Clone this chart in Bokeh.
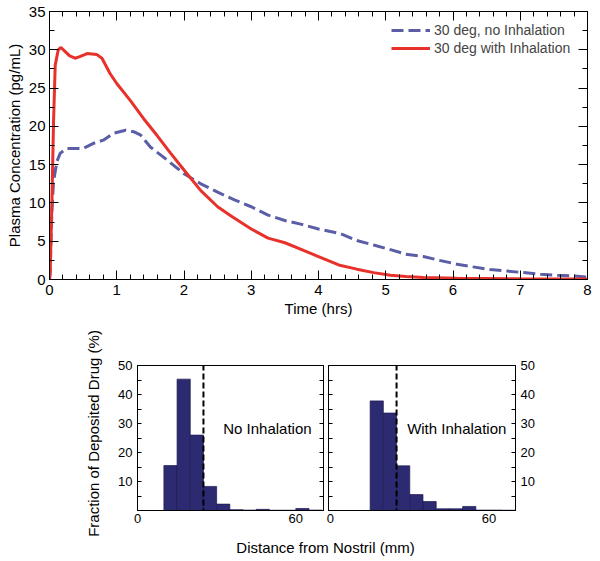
import math
from bokeh.plotting import figure
from bokeh.layouts import column, row
from bokeh.models import (SingleIntervalTicker, FixedTicker, LinearAxis, Legend,
                          LegendItem, Label, Arrow)
from bokeh.embed import file_html
from bokeh.resources import INLINE

# ---------------- data ----------------
# Plasma concentration, 30 deg, no inhalation
t_no = [0, 0.01, 0.035, 0.06, 0.11, 0.16, 0.26, 0.41, 0.5, 0.66, 0.8, 0.95, 1.13,
        1.25, 1.35, 1.5, 1.75, 2.0, 2.25, 2.5, 2.75, 3.0, 3.25, 3.5, 3.75, 4.0,
        4.32, 4.57, 4.82, 5.07, 5.3, 5.56, 5.8, 6.06, 6.3, 6.55, 6.8, 7.05, 7.3,
        7.55, 7.8, 8.0]
c_no = [0, 1.0, 8.8, 12.8, 15.4, 16.5, 17.1, 17.1, 17.1, 17.8, 18.2, 19.1, 19.5,
        19.3, 18.9, 17.3, 15.6, 13.8, 12.5, 11.4, 10.4, 9.5, 8.4, 7.7, 7.2, 6.6,
        6.0, 5.1, 4.5, 3.9, 3.3, 3.0, 2.5, 2.0, 1.65, 1.3, 1.1, 0.9, 0.7,
        0.55, 0.45, 0.3]

# Plasma concentration, 30 deg with inhalation
t_in = [0, 0.01, 0.035, 0.06, 0.085, 0.13, 0.17, 0.23, 0.3, 0.38, 0.45, 0.56, 0.7,
        0.78, 0.9, 1.0, 1.2, 1.4, 1.6, 1.8, 2.0, 2.25, 2.5, 2.7, 3.0, 3.25, 3.5,
        3.75, 4.0, 4.3, 4.57, 4.82, 5.07, 5.3, 5.56, 6.06, 7.0, 8.0]
c_in = [0, 1.0, 9.7, 20.6, 28.0, 30.0, 30.3, 29.8, 29.2, 28.9, 29.1, 29.5, 29.4,
        28.9, 26.9, 25.6, 23.4, 21.0, 18.8, 16.5, 14.3, 11.6, 9.5, 8.3, 6.6, 5.4, 4.8,
        3.9, 3.0, 1.9, 1.35, 0.9, 0.56, 0.4, 0.26, 0.17, 0.1, 0.05]

series_labels = ["30 deg, no Inhalation", "30 deg with Inhalation"]

# Deposition histograms (bins of 5 mm)
bin_left = [10, 15, 20, 25, 30, 35, 40, 45, 50, 55, 60, 65]
bin_right = [15, 20, 25, 30, 35, 40, 45, 50, 55, 60, 65, 70]
frac_no_inh = [15.5, 45.3, 26.0, 8.3, 2.2, 0.3, 0.15, 0.4, 0.1, 0.1, 0.7, 0.15]
frac_with_inh = [0, 37.8, 33.6, 15.4, 5.5, 3.1, 0.6, 0.6, 1.4, 0.15, 0.15, 0.1]
nv_mp_boundary = 25
panel_titles = ["No Inhalation", "With Inhalation"]

# ---------------- style ----------------
FONT = "Liberation Sans"
RED = "#e8312a"
BLUE = "#5b5ea6"
NAVY = "#2c2a70"


def style_axis(ax, size="15px", tick_in=9, minor_in=5, standoff=4):
    ax.major_tick_in = tick_in
    ax.major_tick_out = 0
    ax.minor_tick_in = minor_in
    ax.minor_tick_out = 0
    ax.axis_line_color = "black"
    ax.major_tick_line_color = "black"
    ax.minor_tick_line_color = "black"
    ax.major_label_text_font = FONT
    ax.major_label_text_font_size = size
    ax.major_label_text_color = "black"
    ax.major_label_standoff = standoff
    ax.axis_label_text_font = FONT
    ax.axis_label_text_font_size = "15px"
    ax.axis_label_text_font_style = "normal"
    ax.axis_label_text_color = "black"


def mirror(ticker, tick_in, minor_in):
    ax = LinearAxis(ticker=ticker)
    style_axis(ax, tick_in=tick_in, minor_in=minor_in)
    ax.major_label_text_font_size = "1px"
    ax.major_label_text_color = None
    ax.major_label_text_alpha = 0
    ax.major_label_standoff = 0
    return ax


# ---------------- top plot ----------------
p = figure(width=598, height=320, x_range=(0, 8), y_range=(0, 35),
           output_backend="svg", toolbar_location=None,
           min_border_left=49, min_border_right=11, min_border_top=11,
           min_border_bottom=41)
p.grid.visible = False
p.outline_line_color = "black"

p.xaxis.ticker = SingleIntervalTicker(interval=1, num_minor_ticks=5)
p.yaxis.ticker = SingleIntervalTicker(interval=5, num_minor_ticks=2)
style_axis(p.xaxis[0], standoff=5)
style_axis(p.yaxis[0], standoff=4)
p.xaxis.axis_label = "Time (hrs)"
p.xaxis.axis_label_standoff = 2
p.yaxis.axis_label = "Plasma Concentration (pg/mL)"
p.yaxis.axis_label_standoff = 3
p.add_layout(mirror(SingleIntervalTicker(interval=1, num_minor_ticks=5), 9, 5), "above")
p.add_layout(mirror(SingleIntervalTicker(interval=5, num_minor_ticks=2), 9, 5), "right")

r_no = p.line(t_no, c_no, line_color=BLUE, line_width=3, line_dash="12 5")
r_in = p.line(t_in, c_in, line_color=RED, line_width=3)

legend = Legend(items=[LegendItem(label=series_labels[0], renderers=[r_no]),
                       LegendItem(label=series_labels[1], renderers=[r_in])],
                location=(342, 222), padding=0, margin=0, spacing=0,
                glyph_width=39, glyph_height=18, label_height=18,
                label_standoff=4, label_text_font=FONT,
                label_text_font_size="14px", background_fill_alpha=0,
                border_line_alpha=0)
p.add_layout(legend, "center")


# ---------------- bottom panels ----------------
def hist_panel(values, title, xr, width, bl, br, yaxis_side, title_x, nv_x, mp_x):
    f = figure(width=width, height=211, x_range=xr, y_range=(0, 50),
               output_backend="svg", toolbar_location=None,
               min_border_left=bl, min_border_right=br, min_border_top=45,
               min_border_bottom=21, y_axis_location=yaxis_side)
    f.grid.visible = False
    f.outline_line_color = "black"
    f.xaxis.ticker = FixedTicker(ticks=[0, 60])
    style_axis(f.xaxis[0], size="13px", tick_in=0, minor_in=0, standoff=3)
    f.yaxis.ticker = FixedTicker(ticks=[10, 20, 30, 40, 50],
                                 minor_ticks=[0, 5, 15, 25, 35, 45])
    style_axis(f.yaxis[0], size="13px", tick_in=4, minor_in=4, standoff=5)
    other = "right" if yaxis_side == "left" else "left"
    f.add_layout(mirror(FixedTicker(ticks=[10, 20, 30, 40, 50],
                                    minor_ticks=[0, 5, 15, 25, 35, 45]), 4, 4), other)
    f.quad(left=bin_left, right=bin_right, bottom=0, top=values,
           fill_color=NAVY, line_color="#1d1b52", line_width=0.7)
    f.add_layout(Arrow(end=None, x_start=nv_mp_boundary, y_start=-4.5,
                       x_end=nv_mp_boundary, y_end=55.5, line_color="black",
                       line_width=2, line_dash="6 3"))
    for txt, xx in (("NV", nv_x), ("MP", mp_x)):
        f.add_layout(Label(x=xx, y=54.5, text=txt, text_align="center",
                           text_baseline="middle", text_font=FONT,
                           text_font_size="15px", text_color="black"))
    f.add_layout(Label(x=title_x, y=28.3, text=title, text_align="left",
                       text_baseline="middle", text_font=FONT,
                       text_font_size="15px", text_color="black"))
    return f


pl = hist_panel(frac_no_inh, panel_titles[0], (0, 70.5), 221, 33, 2, "left",
                32.5, 15, 48)
pr = hist_panel(frac_with_inh, panel_titles[1], (-0.75, 70), 273, 3, 83, "right",
                29, 13.9, 47.7)

# shared y label strip (left of the bottom panels)
py = figure(width=104, height=238, x_range=(0, 104), y_range=(558, 320),
            output_backend="svg", toolbar_location=None, min_border=0,
            x_axis_type=None, y_axis_type=None, outline_line_color=None)
py.grid.visible = False
py.add_layout(Label(x=93, y=433, text="Fraction of Deposited Drug (%)",
                    angle=math.pi / 2, text_align="center", text_baseline="middle",
                    text_font=FONT, text_font_size="15px", text_color="black"))

# shared x label strip (below the bottom panels)
pb = figure(width=494, height=27, x_range=(104, 598), y_range=(558, 531),
            output_backend="svg", toolbar_location=None, min_border=0,
            x_axis_type=None, y_axis_type=None, outline_line_color=None)
pb.grid.visible = False
pb.add_layout(Label(x=325, y=546.5, text="Distance from Nostril (mm)",
                    text_align="center", text_baseline="middle", text_font=FONT,
                    text_font_size="15px", text_color="black"))

layout = column(p, row(py, column(row(pl, pr), pb)))
open("out.html", "w").write(file_html(layout, INLINE))
